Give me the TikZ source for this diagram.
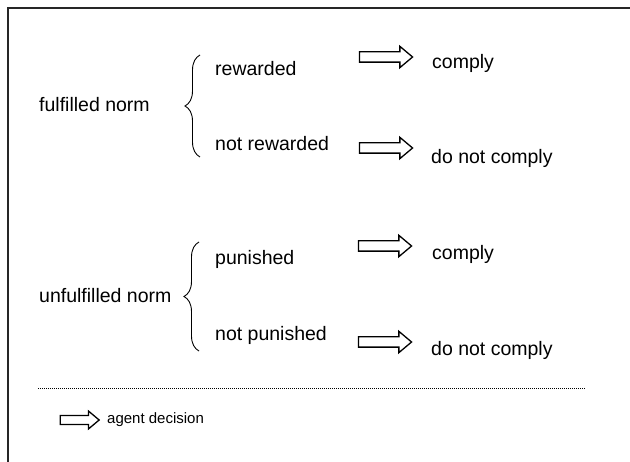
\documentclass[tikz,border=0pt]{standalone}
\usepackage{fontspec}
\setmainfont{Liberation Sans}
\usetikzlibrary{shapes.arrows,decorations.pathreplacing}

\tikzset{
  label text/.style={anchor=base west, inner sep=0pt, font=\fontsize{19.5}{22}\selectfont},
  legend text/.style={anchor=base west, inner sep=0pt, font=\fontsize{15}{18}\selectfont},
  decision arrow/.style={single arrow, draw=black, line width=1.3pt, fill=white,
    minimum height=53pt, minimum width=21pt, inner sep=4.5pt,
    single arrow head extend=5.5pt, single arrow tip angle=80, anchor=center},
  small arrow/.style={decision arrow, minimum height=39pt, minimum width=17pt,
    inner sep=3.8pt, single arrow head extend=4.5pt},
  curly/.style={decorate, decoration={brace, amplitude=15pt, raise=0pt}, line width=0.9pt},
  frame line/.style={line width=1.4pt, black!85},
}

\begin{document}
\begin{tikzpicture}[x=1pt, y=-1pt]
  \useasboundingbox (0,0) rectangle (630,462);

  % outer frame (top and left edges)
  \coordinate (frameTL) at (8,8);
  \coordinate (frameTR) at (630,8);
  \coordinate (frameBL) at (8,462);
  \draw[frame line] (frameTR) -- (frameTL) -- (frameBL);

  % fulfilled norm block
  \node[label text] (fn) at (39,112) {fulfilled norm};
  \coordinate (b1top) at (200,55);
  \coordinate (b1bot) at (200,157);
  \draw[curly] (b1bot) -- (b1top);
  \node[label text] (rw) at (215,76) {rewarded};
  \node[label text] (nrw) at (215,151) {not rewarded};
  \node[decision arrow] (a1) at (383,57) {};
  \node[decision arrow] (a2) at (383,148) {};
  \node[label text] (c1) at (432,69) {comply};
  \node[label text] (d1) at (431,164) {do not comply};

  % unfulfilled norm block
  \node[label text] (un) at (39,303) {unfulfilled norm};
  \coordinate (b2top) at (199,242);
  \coordinate (b2bot) at (199,351);
  \draw[curly] (b2bot) -- (b2top);
  \node[label text] (pu) at (215,265) {punished};
  \node[label text] (npu) at (215,341) {not punished};
  \node[decision arrow] (a3) at (382,246) {};
  \node[decision arrow] (a4) at (382,342) {};
  \node[label text] (c2) at (432,260) {comply};
  \node[label text] (d2) at (431,356) {do not comply};

  % separator
  \coordinate (sepL) at (38,389);
  \coordinate (sepR) at (585,389);
  \draw[line width=1pt, dash pattern=on 1.2pt off 0.8pt] (sepL) -- (sepR);

  % legend
  \node[small arrow] (la) at (77,420) {};
  \node[legend text] (lt) at (107,424) {agent decision};
\end{tikzpicture}
\end{document}
